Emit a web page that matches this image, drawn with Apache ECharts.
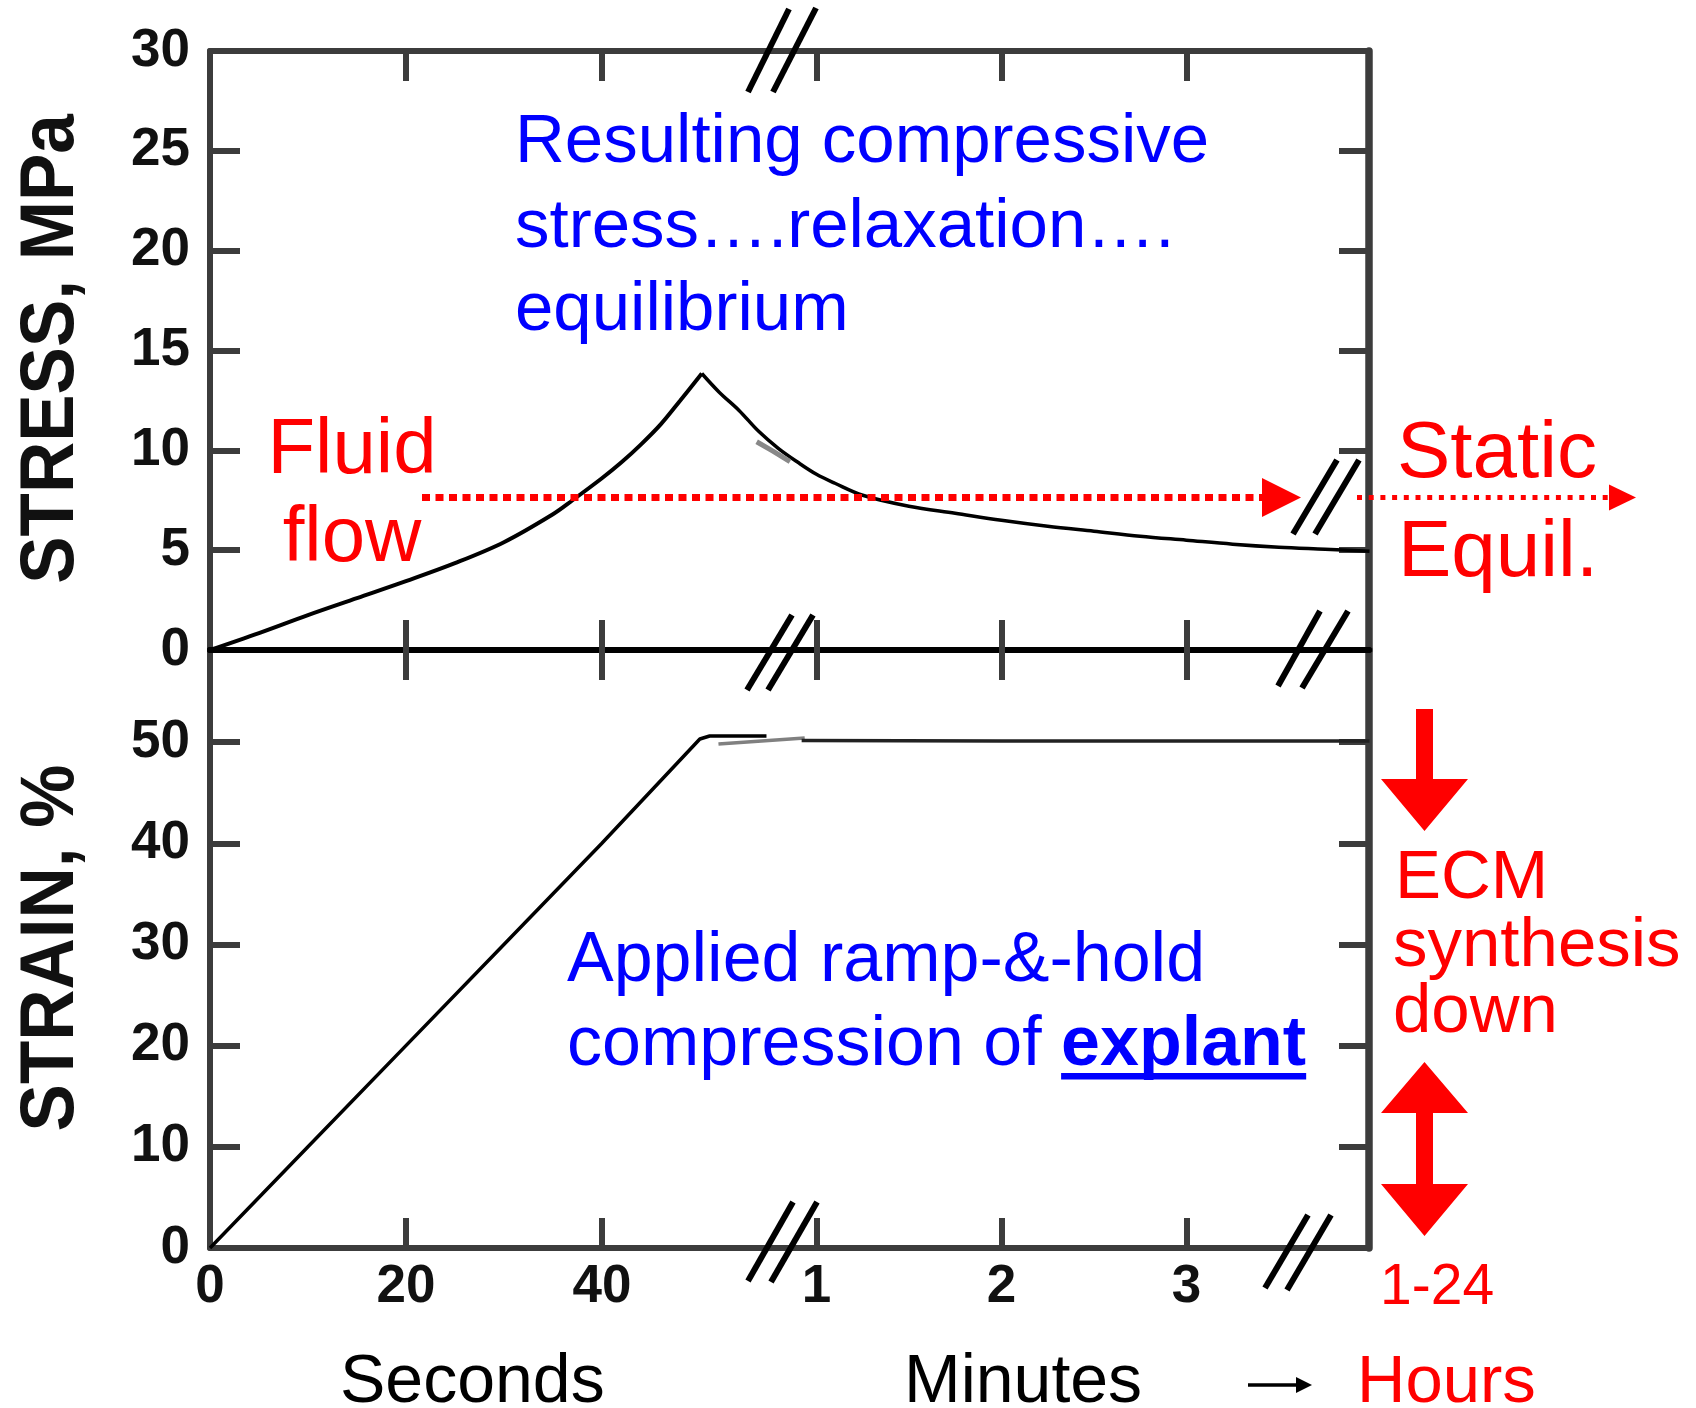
<!DOCTYPE html>
<html>
<head>
<meta charset="utf-8">
<title>Ramp-and-hold compression</title>
<script src="https://cdn.jsdelivr.net/npm/echarts@6.0.0/dist/echarts.min.js"></script>
<style>
html, body { margin: 0; padding: 0; background: #fff; }
#main { width: 1696px; height: 1408px; }
</style>
</head>
<body>
<div id="main"></div>
<script>
// broken time axis: seconds until ~1 min, then minutes, then (off chart) hours
var secTicks = [0, 20, 40];
var minTicks = [1, 2, 3];
var stressTicks = [0, 5, 10, 15, 20, 25, 30];
var strainTicks = [0, 10, 20, 30, 40, 50];

// STRESS, MPa  -- ramp up to the peak, then relaxation
var riseT = [0, 5, 10, 15, 20, 25, 30, 35, 37, 40, 42, 44, 46, 48, 50.2];
var riseV = [0, 0.85, 1.75, 2.6, 3.45, 4.35, 5.4, 6.8, 7.5, 8.6, 9.4, 10.3, 11.3, 12.5, 13.85];
var decaySecT = [50.2, 52, 54, 56, 58, 60];
var decaySecV = [13.85, 12.9, 12.0, 10.95, 10.1, 9.4];
var decayMinT = [1.0, 1.1, 1.25, 1.5, 1.75, 2.0, 2.25, 2.5, 2.75, 3.0, 3.25, 3.5, 3.75, 3.99];
var decayMinV = [8.8, 8.35, 7.75, 7.2, 6.85, 6.5, 6.2, 5.95, 5.7, 5.5, 5.3, 5.15, 5.05, 4.95];
// grey smear just under the relaxation curve
var smearT = [55.8, 57.5, 59.2];
var smearV = [10.43, 9.95, 9.43];

// STRAIN, %  -- ramp then hold
var strainSecT = [0, 10, 20, 30, 40, 50, 51, 56.8];
var strainSecV = [0, 10, 20, 30, 40, 50.3, 50.6, 50.6];
var bridgeT = [51.9, 60.7];
var bridgeV = [49.8, 50.4];
var holdMinT = [0.92, 2, 3, 3.99];
var holdMinV = [50.15, 50.1, 50.1, 50.1];

var FONT = '"Liberation Sans", Arial, Helvetica, sans-serif';
var X_MAX = 118.3;     // right edge of the frame, in seconds-scale units
var MIN_ONE = 61.9;    // where "1 min" sits
var MIN_SPAN = 18.88;  // units per minute after the break
var STRAIN_MAX = 59.1;

function secU(t) { return t; }
function minU(m) { return MIN_ONE + (m - 1) * MIN_SPAN; }
function pairs(xs, ys, f) {
	return xs.map(function (x, i) { return [f(x), ys[i]]; });
}

var xTickU = secTicks.map(secU).concat(minTicks.map(minU));
var xTickText = secTicks.map(String).concat(minTicks.map(String));

function xLabel(v) {
	for (var i = 0; i < xTickU.length; i++) {
		if (Math.abs(v - xTickU[i]) < 0.01) return xTickText[i];
	}
	return '';
}

var labelStyle = { fontSize: 53, fontWeight: 'bold', color: '#111', fontFamily: FONT };
var tickStyle = { color: '#3c3c3c', width: 6 };

function xAx(grid, pos, lineColor, showLabel) {
	return {
		type: 'value', gridIndex: grid, position: pos, min: 0, max: X_MAX,
		axisLine: { onZero: false, lineStyle: { color: lineColor, width: 6 } },
		axisTick: { inside: true, length: 30, customValues: xTickU.slice(1), lineStyle: tickStyle },
		axisLabel: Object.assign({ show: showLabel, customValues: xTickU, margin: 13, formatter: xLabel }, labelStyle),
		splitLine: { show: false }
	};
}

function yAx(grid, pos, max, ticks, showLabel, lineW) {
	return {
		type: 'value', gridIndex: grid, position: pos, min: 0, max: max,
		axisLine: { onZero: false, lineStyle: { color: '#3c3c3c', width: lineW } },
		axisTick: { inside: true, length: 30, customValues: ticks.slice(1).filter(function (t) { return t < max; }), lineStyle: tickStyle },
		axisLabel: Object.assign({ show: showLabel, customValues: ticks, margin: 20 }, labelStyle),
		splitLine: { show: false }
	};
}

function lineSeries(xi, yi, data, color, width, smooth) {
	return {
		type: 'line', xAxisIndex: xi, yAxisIndex: yi, data: data,
		symbol: 'none', showSymbol: false, animation: false, silent: true,
		smooth: smooth || false,
		lineStyle: { color: color, width: width }
	};
}

// text helper, y given as baseline
function txt(str, x, base, size, color, weight, align) {
	var f = (weight || 'normal') + ' ' + size + 'px ' + FONT;
	return {
		type: 'text', x: x, y: base - 0.27 * size, silent: true,
		style: {
			text: str, fill: color, font: f,
			align: align || 'left', textAlign: align || 'left',
			verticalAlign: 'middle', textVerticalAlign: 'middle'
		}
	};
}

function slash(x1, y1, x2, y2) {
	return { type: 'line', silent: true, shape: { x1: x1, y1: y1, x2: x2, y2: y2 },
		style: { stroke: '#000', lineWidth: 6 }, z: 10 };
}

function poly(points, color) {
	return { type: 'polygon', silent: true, shape: { points: points }, style: { fill: color }, z: 10 };
}

var RED = '#ff0000', BLUE = '#0000ff';

// width of the plain part so "explant" and its underline line up
var cv = document.createElement('canvas').getContext('2d');
cv.font = '70px ' + FONT;
var wPlain = cv.measureText('compression of ').width;
cv.font = 'bold 70px ' + FONT;
var wBold = cv.measureText('explant').width;
var appliedX = 567;

var graphics = [
	// axis breaks
	slash(748, 92, 789, 9), slash(773, 92, 816, 8),
	slash(747, 690, 792, 615), slash(768, 690, 813, 615),
	slash(1278, 686, 1320, 611), slash(1302, 688, 1348, 611),
	slash(1293, 534, 1337, 460), slash(1315, 534, 1359, 460),
	slash(748, 1281, 793, 1202), slash(771, 1282, 817, 1202),
	slash(1265, 1288, 1308, 1215), slash(1287, 1290, 1331, 1215),

	// red dotted arrows at the fluid-flow level
	{ type: 'line', silent: true, shape: { x1: 422, y1: 497.5, x2: 1262, y2: 497.5 },
		style: { stroke: RED, lineWidth: 7, lineDash: [8, 5.5] }, z: 9 },
	poly([[1262, 478], [1301, 497.5], [1262, 517]], RED),
	{ type: 'line', silent: true, shape: { x1: 1357, y1: 497.5, x2: 1609, y2: 497.5 },
		style: { stroke: RED, lineWidth: 5, lineDash: [5, 6.7] }, z: 9 },
	poly([[1609, 484.5], [1636, 497.5], [1609, 510.5]], RED),

	// red arrows beside strain panel
	poly([[1416, 709], [1433, 709], [1433, 779], [1468, 779], [1424.5, 831], [1381, 779], [1416, 779]], RED),
	poly([[1424.5, 1062], [1468, 1113], [1433, 1113], [1433, 1184], [1468, 1184], [1424.5, 1236],
		[1381, 1184], [1416, 1184], [1416, 1113], [1381, 1113]], RED),

	// axis titles
	{ type: 'text', x: 52, y: 349, rotation: Math.PI / 2, scaleY: 1.08, silent: true,
		style: { text: 'STRESS, MPa', fill: '#111', font: 'bold 71px ' + FONT,
			align: 'center', textAlign: 'center', verticalAlign: 'middle', textVerticalAlign: 'middle' } },
	{ type: 'text', x: 52, y: 948, rotation: Math.PI / 2, scaleY: 1.08, silent: true,
		style: { text: 'STRAIN, %', fill: '#111', font: 'bold 71px ' + FONT,
			align: 'center', textAlign: 'center', verticalAlign: 'middle', textVerticalAlign: 'middle' } },

	// annotations
	txt('Resulting compressive', 515, 162, 69, BLUE),
	txt('stress\u2026.relaxation\u2026.', 515, 246.5, 69, BLUE),
	txt('equilibrium', 515, 330, 69, BLUE),
	txt('Fluid', 352, 473, 78, RED, 'normal', 'center'),
	txt('flow', 352, 561, 78, RED, 'normal', 'center'),
	txt('Static', 1397, 477, 80, RED),
	txt('Equil.', 1398, 576, 80, RED),
	txt('Applied ramp-&-hold', appliedX, 981, 70, BLUE),
	txt('compression of ', appliedX, 1065, 70, BLUE),
	txt('explant', appliedX + wPlain, 1065, 70, BLUE, 'bold'),
	{ type: 'rect', silent: true, shape: { x: appliedX + wPlain, y: 1073, width: wBold, height: 6.5 }, style: { fill: BLUE } },
	txt('ECM', 1395, 898, 69, RED),
	txt('synthesis', 1393, 966, 69, RED),
	txt('down', 1393, 1032, 69, RED),
	txt('1-24', 1380, 1304, 57, RED),
	txt('Seconds', 340, 1402, 68, '#000'),
	txt('Minutes', 904, 1402, 68, '#000'),
	// thin arrow between Minutes and Hours
	{ type: 'line', silent: true, shape: { x1: 1248, y1: 1385, x2: 1302, y2: 1385 }, style: { stroke: '#000', lineWidth: 3.5 } },
	poly([[1296, 1377], [1312, 1385], [1296, 1393]], '#000'),
	txt('Hours', 1357, 1402, 67, RED)
];

var option = {
	backgroundColor: '#fff',
	animation: false,
	grid: [
		{ left: 210, top: 51, width: 1159, height: 599 },
		{ left: 210, top: 650, width: 1159, height: 598 }
	],
	xAxis: [
		xAx(0, 'bottom', '#000', false),
		xAx(0, 'top', '#3c3c3c', false),
		xAx(1, 'bottom', '#3c3c3c', true),
		xAx(1, 'top', '#000', false)
	],
	yAxis: [
		yAx(0, 'left', 30, stressTicks, true, 6),
		yAx(0, 'right', 30, stressTicks, false, 7.5),
		yAx(1, 'left', STRAIN_MAX, strainTicks, true, 6),
		yAx(1, 'right', STRAIN_MAX, strainTicks, false, 7.5)
	],
	series: [
		lineSeries(0, 0, pairs(riseT, riseV, secU), '#000', 4, 0.35),
		lineSeries(0, 0, pairs(decaySecT, decaySecV, secU).concat(pairs(decayMinT, decayMinV, minU)), '#000', 3.5, 0.35),
		lineSeries(0, 0, pairs(smearT, smearV, secU), '#888', 5),
		lineSeries(2, 2, pairs(strainSecT, strainSecV, secU), '#000', 3.5),
		lineSeries(2, 2, pairs(bridgeT, bridgeV, secU), '#808080', 3.5),
		lineSeries(2, 2, pairs(holdMinT, holdMinV, minU), '#222', 3.5)
	],
	graphic: graphics
};

var myChart = echarts.init(document.getElementById('main'), null, { renderer: 'canvas' });
myChart.setOption(option);
</script>
</body>
</html>
